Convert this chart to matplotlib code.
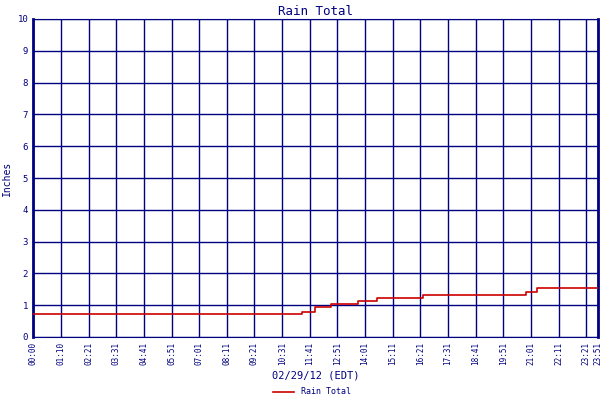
import matplotlib
matplotlib.use("Agg")
import matplotlib.pyplot as plt

# rain total steps (minutes since midnight, inches)
step_min = [0, 681, 715, 755, 822, 870, 989, 1249, 1276, 1431]
step_val = [0.72, 0.80, 0.93, 1.04, 1.12, 1.22, 1.32, 1.40, 1.53, 1.53]

tick_labels = ["00:00", "01:10", "02:21", "03:31", "04:41", "05:51", "07:01", "08:11",
               "09:21", "10:31", "11:41", "12:51", "14:01", "15:11", "16:21", "17:31",
               "18:41", "19:51", "21:01", "22:11", "23:21", "23:51"]
tick_min = [int(s[:2]) * 60 + int(s[3:]) for s in tick_labels]

navy = "#000080"
plt.rcParams['font.family'] = ['DejaVu Sans Mono']

fig = plt.figure(figsize=(6, 4), dpi=100)
ax = fig.add_axes([33 / 600, 63 / 400, 565 / 600, 318 / 400])
ax.step(step_min, step_val, where="post", color="#cc0000", lw=1.2, label="Rain Total", zorder=3)
ax.set_xlim(0, 1431)
ax.set_ylim(0, 10)
ax.set_yticks(range(11))
ax.set_xticks(tick_min)
ax.set_xticklabels(tick_labels, rotation=90, fontsize=5.5, color=navy)
ax.tick_params(axis="y", labelsize=6.5, colors=navy, length=0)
ax.tick_params(axis="x", length=0, colors=navy)
ax.grid(True, color=navy, lw=1)
for s in ax.spines.values():
    s.set_color(navy)
ax.spines["left"].set_linewidth(2)
ax.spines["right"].set_linewidth(2)
ax.set_title("Rain Total", color=navy, fontsize=9, pad=3)
ax.set_ylabel("Inches", color=navy, fontsize=7, labelpad=4)
ax.set_xlabel("02/29/12 (EDT)", color=navy, fontsize=7.5, labelpad=4)
fig.legend(loc="lower center", bbox_to_anchor=(0.52, -0.01), frameon=False, fontsize=6,
           labelcolor=navy, handlelength=2.5)
fig.savefig("out.png", dpi=100)
